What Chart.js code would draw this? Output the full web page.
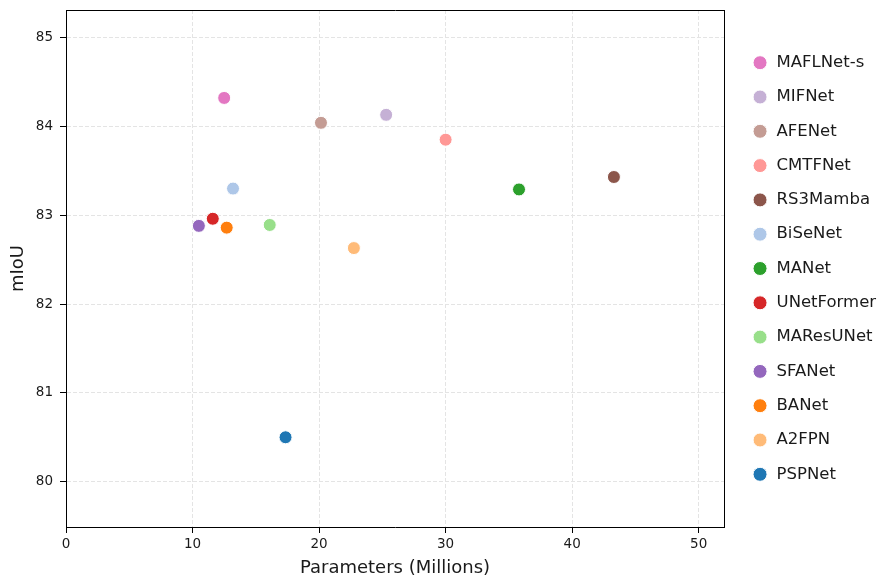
<!DOCTYPE html>
<html>
<head>
<meta charset="utf-8">
<script src="https://cdn.jsdelivr.net/npm/chart.js@4/dist/chart.umd.min.js"></script>
<style>
  html, body { margin: 0; padding: 0; background: #fff; }
  #wrap { width: 882px; height: 581px; }
</style>
</head>
<body>
<div id="wrap"><canvas id="scatter"></canvas></div>
<script>
// model names, in legend order
const models = ['MAFLNet-s', 'MIFNet', 'AFENet', 'CMTFNet', 'RS3Mamba', 'BiSeNet', 'MANet',
                'UNetFormer', 'MAResUNet', 'SFANet', 'BANet', 'A2FPN', 'PSPNet'];
// parameters (millions)
const params = [12.5, 25.3, 20.15, 30.0, 43.3, 13.2, 35.8, 11.6, 16.1, 10.5, 12.7, 22.75, 17.35];
// mIoU (%)
const miou = [84.32, 84.13, 84.04, 83.85, 83.43, 83.30, 83.29, 82.96, 82.89, 82.88, 82.86, 82.63, 80.50];
const xTicks = [0, 10, 20, 30, 40, 50];
const yTicks = [80, 81, 82, 83, 84, 85];

const palette = ['#e377c2', '#c5b0d5', '#c49c94', '#ff9896', '#8c564b', '#aec7e8', '#2ca02c',
                 '#d62728', '#98df8a', '#9467bd', '#ff7f0e', '#ffbb78', '#1f77b4'];

const FONT = 'DejaVu Sans';
const ink = '#1a1a1a';

const datasets = models.map((name, i) => ({
    label: name,
    data: [{ x: params[i], y: miou[i] }],
    backgroundColor: palette[i],
    borderColor: '#ffffff',
    borderWidth: 1,
    pointRadius: 6.5,
    pointHoverRadius: 6.5,
    pointStyle: 'circle',
    xAxisID: 'x',
    yAxisID: 'y'
}));

const gridOpts = {
    color: '#e4e4e4',
    lineWidth: 1,
    tickColor: '#000',
    tickLength: 6,
    tickWidth: 1
};

new Chart(document.getElementById('scatter'), {
    type: 'scatter',
    data: { datasets },
    options: {
        responsive: true,
        maintainAspectRatio: false,
        animation: false,
        layout: { padding: { top: 0, right: 0, bottom: 0, left: 0 } },
        plugins: {
            tooltip: { enabled: false },
            legend: {
                position: 'right',
                fullSize: false,
                maxWidth: 148,
                labels: {
                    usePointStyle: true,
                    boxWidth: 19.5,
                    boxHeight: 9.9,
                    padding: 17.8,
                    color: ink,
                    font: { family: FONT, size: 16.5 }
                }
            }
        },
        scales: {
            x: {
                type: 'linear',
                position: 'bottom',
                min: 0,
                max: 52,
                afterBuildTicks: s => { s.ticks = xTicks.map(v => ({ value: v })); },
                afterFit: s => { s.height = 54; s.paddingLeft = 0; s.paddingRight = 0; },
                grid: gridOpts,
                border: { display: true, color: '#000', width: 1, dash: [4, 2] },
                ticks: { color: ink, padding: 3, maxRotation: 0, font: { family: FONT, size: 13.5 } },
                title: {
                    display: true,
                    text: 'Parameters (Millions)',
                    color: ink,
                    padding: { top: 0, bottom: 2 },
                    font: { family: FONT, size: 18 }
                }
            },
            y: {
                type: 'linear',
                position: 'left',
                min: 79.49,
                max: 85.31,
                afterBuildTicks: s => { s.ticks = yTicks.map(v => ({ value: v })); },
                afterFit: s => { s.width = 66; s.paddingTop = 0; s.paddingBottom = 0; },
                grid: gridOpts,
                border: { display: true, color: '#000', width: 1, dash: [4, 2] },
                ticks: { color: ink, padding: 7, font: { family: FONT, size: 13.5 } },
                title: {
                    display: true,
                    text: 'mIoU',
                    color: ink,
                    padding: { top: 7.5, bottom: 0 },
                    font: { family: FONT, size: 18 }
                }
            },
            // frame spines (top / right), no ticks
            xTop: {
                type: 'linear',
                position: 'top',
                afterFit: s => { s.height = 10; s.paddingLeft = 0; s.paddingRight = 0; },
                grid: { display: false, drawTicks: false },
                border: { display: true, color: '#000', width: 1 },
                ticks: { display: false }
            },
            yRight: {
                type: 'linear',
                position: 'right',
                afterFit: s => { s.width = 10; s.paddingTop = 0; s.paddingBottom = 0; },
                grid: { display: false, drawTicks: false },
                border: { display: true, color: '#000', width: 1 },
                ticks: { display: false }
            }
        }
    }
});
</script>
</body>
</html>
